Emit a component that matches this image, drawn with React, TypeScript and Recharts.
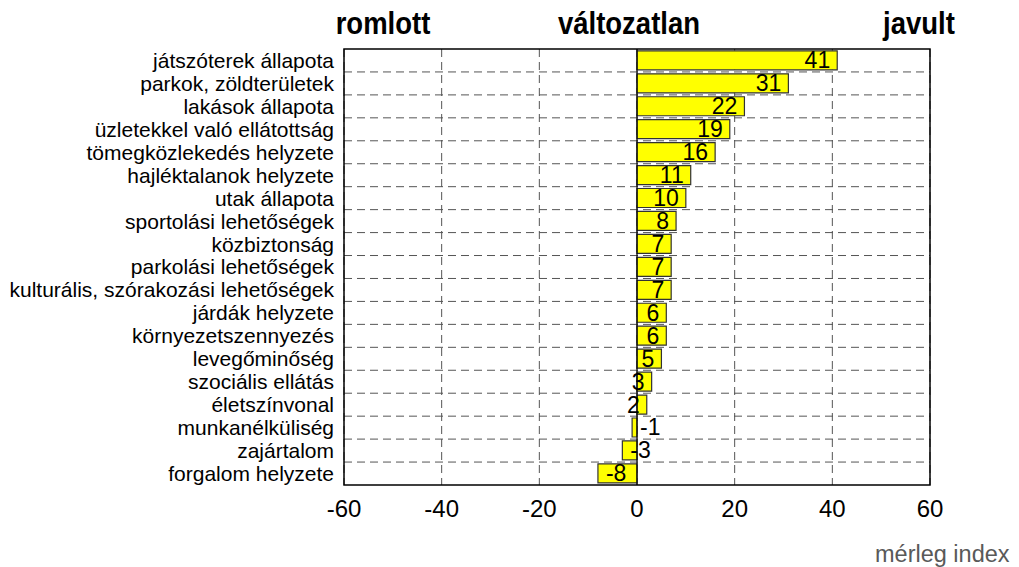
import { BarChart, Bar, XAxis, YAxis, CartesianGrid, ReferenceLine, ReferenceArea, LabelList } from 'recharts'

const categories = [
  'játszóterek állapota',
  'parkok, zöldterületek',
  'lakások állapota',
  'üzletekkel való ellátottság',
  'tömegközlekedés helyzete',
  'hajléktalanok helyzete',
  'utak állapota',
  'sportolási lehetőségek',
  'közbiztonság',
  'parkolási lehetőségek',
  'kulturális, szórakozási lehetőségek',
  'járdák helyzete',
  'környezetszennyezés',
  'levegőminőség',
  'szociális ellátás',
  'életszínvonal',
  'munkanélküliség',
  'zajártalom',
  'forgalom helyzete',
]
const values = [41, 31, 22, 19, 16, 11, 10, 8, 7, 7, 7, 6, 6, 5, 3, 2, -1, -3, -8]
const xTicks = [-60, -40, -20, 0, 20, 40, 60]
const headers = ['romlott', 'változatlan', 'javult']

const data = categories.map((name, i) => ({ name, value: values[i] }))

const FONT = '"Liberation Sans", Arial, sans-serif'

function BarValue(props: any) {
  const { x, y, width, height, value } = props
  const left = Math.min(x, x + width)
  const right = Math.max(x, x + width)
  const cy = y + height / 2 + 8
  if (value >= 0) {
    return (
      <text x={right - 7} y={cy} textAnchor="end" fontSize={23} fontFamily={FONT} fill="#000">
        {value}
      </text>
    )
  }
  return (
    <text x={left + 8} y={cy} textAnchor="start" fontSize={23} fontFamily={FONT} fill="#000">
      {value}
    </text>
  )
}

export default function App() {
  const n = categories.length
  return (
    <div style={{ position: 'absolute', left: 0, top: 0, width: 1019, height: 567, background: '#fff', fontFamily: FONT, overflow: 'hidden' }}>
      {/* column headers */}
      {headers.map((h, i) => (
        <div
          key={h}
          style={{
            position: 'absolute',
            top: 8,
            left: [383, 629, 919][i],
            transform: 'translateX(-50%) scaleY(1.15)',
            fontWeight: 700,
            fontSize: 27.5,
            color: '#000',
            whiteSpace: 'nowrap',
          }}
        >
          {h}
        </div>
      ))}
      <BarChart
        width={1019}
        height={567}
        data={data}
        layout="vertical"
        margin={{ top: 49, right: 89, bottom: 42, left: 0 }}
        barCategoryGap="8%"
      >
        <CartesianGrid
          stroke="#555"
          strokeDasharray="8 5"
          horizontalCoordinatesGenerator={({ offset }: any) =>
            Array.from({ length: n - 1 }, (_, i) => offset.top + ((i + 1) * offset.height) / n)
          }
        />
        <XAxis
          type="number"
          domain={[-60, 60]}
          ticks={xTicks}
          interval={0}
          axisLine={false}
          tickLine={false}
          tickMargin={9}
          height={40}
          tick={{ fontSize: 24, fill: '#000', fontFamily: FONT }}
        />
        <YAxis
          type="category"
          dataKey="name"
          width={344}
          axisLine={false}
          tickLine={false}
          tickMargin={4}
          interval={0}
          tick={{ fontSize: 21, fill: '#000', fontFamily: FONT }}
        />
        <Bar dataKey="value" fill="#ffff00" stroke="#333" strokeWidth={1.2} isAnimationActive={false}>
          <LabelList dataKey="value" content={<BarValue />} />
        </Bar>
        <ReferenceLine x={0} stroke="#000" strokeWidth={1.2} />
        <ReferenceArea x1={-60} x2={60} fill="none" stroke="#000" strokeWidth={1.5} ifOverflow="visible" />
      </BarChart>
      <div style={{ position: 'absolute', left: 875, top: 541, fontSize: 23.5, color: '#595959', whiteSpace: 'nowrap' }}>
        mérleg index
      </div>
    </div>
  )
}
